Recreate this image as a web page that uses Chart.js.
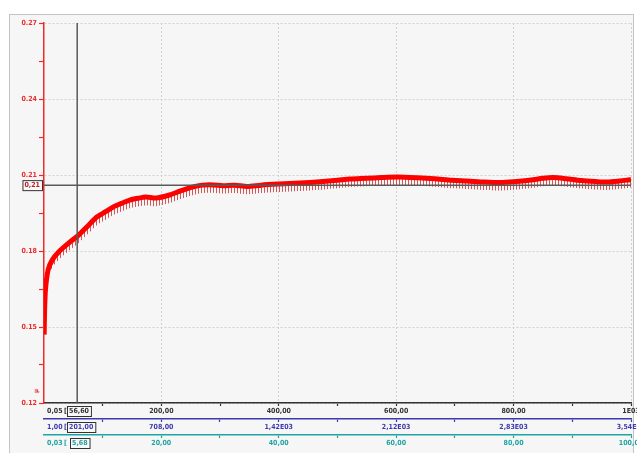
<!DOCTYPE html>
<html>
<head>
<meta charset="utf-8">
<script src="https://cdn.jsdelivr.net/npm/chart.js@4/dist/chart.umd.min.js"></script>
<style>
  html, body { margin: 0; padding: 0; background: #ffffff; }
  #grafico { display: block; }
</style>
</head>
<body>
<canvas id="grafico" width="637" height="453"></canvas>
<script>
// Dados (tempo x amplitude)
const timeS = [0.3, 1, 2.5, 7, 14, 25, 42, 59, 75, 90, 105, 118, 132, 146, 160, 174, 191, 214, 228, 243,
  256, 270, 288, 305, 325, 346, 370, 400, 436, 470, 500, 521, 550, 575, 602, 636, 665, 695, 721, 750,
  777, 800, 830, 850, 868, 890, 915, 940, 960, 980, 994, 1000];
const ampRed = [0.147, 0.156, 0.1646, 0.1725, 0.1764, 0.1796, 0.1831, 0.1863, 0.190, 0.1934,
  0.1955, 0.1974, 0.1988, 0.2001, 0.2008, 0.2013, 0.2009, 0.2021, 0.2033, 0.2045,
  0.2054, 0.2060, 0.2061, 0.2058, 0.2060, 0.2055, 0.2060, 0.2064, 0.2068, 0.2073,
  0.2079, 0.2084, 0.2087, 0.2090, 0.2092, 0.2089, 0.2085, 0.2079, 0.2076, 0.2072,
  0.2070, 0.2073, 0.2080, 0.2087, 0.2090, 0.2085, 0.2078, 0.2074, 0.2072, 0.2076, 0.2080, 0.2082];
// Fundo dos picos (envelope inferior do ruído)
const ampLow = [0.147, 0.156, 0.1635, 0.170, 0.1735, 0.1765, 0.180, 0.1832, 0.1868, 0.1902,
  0.1923, 0.1942, 0.1956, 0.1969, 0.1976, 0.1981, 0.1977, 0.1989, 0.2001, 0.2013,
  0.2022, 0.2029, 0.2030, 0.2027, 0.2029, 0.2024, 0.2029, 0.2033, 0.2037, 0.2042,
  0.2048, 0.2053, 0.2056, 0.2059, 0.2061, 0.2058, 0.2054, 0.2048, 0.2045, 0.2041,
  0.2039, 0.2042, 0.2049, 0.2056, 0.2059, 0.2054, 0.2047, 0.2043, 0.2041, 0.2045, 0.2049, 0.2051];

// Eixos e rótulos
const xTicks = [100, 200, 300, 400, 500, 600, 700, 800, 900, 1000];
const xTickLabels = ['', '200,00', '', '400,00', '', '600,00', '', '800,00', '', '1E03'];
const x2Ticks = [354, 708, 1062, 1416, 1770, 2124, 2478, 2832, 3186, 3540];
const x2TickLabels = ['', '708,00', '', '1,42E03', '', '2,12E03', '', '2,83E03', '', '3,54E03'];
const x3Ticks = [10, 20, 30, 40, 50, 60, 70, 80, 90, 100];
const x3TickLabels = ['', '20,00', '', '40,00', '', '60,00', '', '80,00', '', '100,00'];
const yTicks = [0.12, 0.135, 0.15, 0.165, 0.18, 0.195, 0.21, 0.225, 0.24, 0.255, 0.27];
const yTickLabels = ['0.12', '', '0.15', '', '0.18', '', '0.21', '', '0.24', '', '0.27'];
const axisMinLabels = ['0,05', '1,00', '0,03'];

// Cursor
const cursorT = 56.6;
const cursorLabels = ['56,60', '201,00', '5,68'];
const cursorY = 0.206;
const cursorYLabel = '0,21';

const FONT = "'Liberation Sans Narrow', 'DejaVu Sans Condensed', 'Liberation Sans', sans-serif";
const COR_X = '#333333', COR_X2 = '#3b3bb0', COR_X3 = '#1fa3a3', COR_Y = '#ee2a2a';

// Padrão de riscos verticais para o ruído
function makeSpikePattern() {
    const c = document.createElement('canvas');
    c.width = 3; c.height = 1;
    const g = c.getContext('2d');
    g.fillStyle = 'rgba(190,20,20,0.7)';
    g.fillRect(0, 0, 1, 1);
    return document.getElementById('grafico').getContext('2d').createPattern(c, 'repeat');
}

function fitX(s) { s.height = 16; s.paddingLeft = 0; s.paddingRight = 0; }

function xAxis(min, max, ticks, labels, color, onArea) {
    return {
        type: 'linear', position: 'bottom', min: min, max: max,
        afterBuildTicks: s => { s.ticks = ticks.map(v => ({ value: v })); },
        afterFit: fitX,
        ticks: {
            autoSkip: false, maxRotation: 0, padding: 1, color: color,
            font: { family: FONT, size: 7, weight: 'bold' },
            callback: (v, i) => labels[i]
        },
        grid: {
            drawOnChartArea: onArea,
            color: c => (labels[c.index] ? '#d2d2d2' : 'transparent'),
            lineWidth: 1, tickLength: 3, tickColor: color, tickWidth: 1.2
        },
        border: { color: color, width: 1.5, dash: [2, 2] }
    };
}

// Fundo e moldura
const framePlugin = {
    id: 'moldura',
    beforeDraw(chart) {
        const ctx = chart.ctx;
        ctx.save();
        ctx.fillStyle = '#ffffff';
        ctx.fillRect(0, 0, chart.width, chart.height);
        ctx.fillStyle = '#f6f6f6';
        ctx.fillRect(9, 14, 625, 445);
        ctx.strokeStyle = '#c4c4c4';
        ctx.lineWidth = 1;
        ctx.strokeRect(9.5, 14.5, 624, 445);
        ctx.restore();
    }
};

function boxedText(ctx, text, x, y, color) {
    const w = ctx.measureText(text).width + 4;
    ctx.fillStyle = '#f8f8f8';
    ctx.fillRect(x, y - 5, w, 10);
    ctx.strokeStyle = '#333';
    ctx.lineWidth = 1;
    ctx.strokeRect(x + 0.5, y - 5 + 0.5, w, 10);
    ctx.fillStyle = color;
    ctx.textAlign = 'left';
    ctx.fillText(text, x + 2, y + 0.5);
    return w;
}

// Cursor e leituras
const cursorPlugin = {
    id: 'cursor',
    afterDraw(chart) {
        const { ctx, chartArea, scales } = chart;
        const xs = scales.x.getPixelForValue(cursorT);
        const ys = scales.y.getPixelForValue(cursorY);
        ctx.save();
        ctx.strokeStyle = '#5a5a5a';
        ctx.lineWidth = 1.5;
        ctx.beginPath();
        ctx.moveTo(xs, chartArea.top);
        ctx.lineTo(xs, chartArea.bottom);
        ctx.moveTo(chartArea.left, ys);
        ctx.lineTo(chartArea.right, ys);
        ctx.stroke();

        ctx.font = 'bold 7px ' + FONT;
        ctx.textBaseline = 'middle';
        const axes = [scales.x, scales.x2, scales.x3];
        const cores = [COR_X, COR_X2, COR_X3];
        axes.forEach((s, i) => {
            const ty = s.top + 8;
            ctx.fillStyle = cores[i];
            ctx.textAlign = 'left';
            ctx.fillText(axisMinLabels[i], chartArea.left + 3, ty);
            ctx.fillText('[', chartArea.left + 20, ty);
            boxedText(ctx, cursorLabels[i], chartArea.left + 23 + (i === 2 ? 3 : 0), ty, cores[i]);
        });

        // leitura do eixo y
        const w = ctx.measureText(cursorYLabel).width + 4;
        boxedText(ctx, cursorYLabel, chartArea.left - w - 2, ys, '#c02020');

        // unidade do eixo y
        ctx.fillStyle = COR_Y;
        ctx.font = 'bold 6px ' + FONT;
        ctx.translate(36, chartArea.bottom - 12);
        ctx.rotate(-Math.PI / 2);
        ctx.textAlign = 'center';
        ctx.fillText('µ', 0, 0);
        ctx.restore();
    }
};

const spikePattern = makeSpikePattern();

new Chart(document.getElementById('grafico'), {
    type: 'line',
    data: {
        datasets: [{
            label: 'amplitude',
            data: timeS.map((t, i) => ({ x: t, y: ampRed[i] })),
            borderColor: '#ff0000',
            borderWidth: 5,
            pointRadius: 0,
            tension: 0.25,
            fill: false
        }, {
            label: 'ruido',
            data: timeS.map((t, i) => ({ x: t, y: ampLow[i] })),
            borderColor: 'rgba(0,0,0,0)',
            borderWidth: 0,
            backgroundColor: spikePattern,
            pointRadius: 0,
            tension: 0.25,
            fill: '-1'
        }]
    },
    options: {
        responsive: false,
        animation: false,
        layout: { padding: { left: 10, top: 23, right: 6, bottom: 2 } },
        scales: {
            x: xAxis(0.05, 1000, xTicks, xTickLabels, COR_X, true),
            x2: xAxis(1, 3540, x2Ticks, x2TickLabels, COR_X2, false),
            x3: xAxis(0.03, 100, x3Ticks, x3TickLabels, COR_X3, false),
            y: {
                type: 'linear', position: 'left', min: 0.12, max: 0.27,
                afterBuildTicks: s => { s.ticks = yTicks.map(v => ({ value: v })); },
                afterFit: s => { s.width = 34; s.paddingTop = 0; s.paddingBottom = 0; },
                ticks: {
                    autoSkip: false, padding: 2, color: COR_Y,
                    font: { family: FONT, size: 7, weight: 'bold' },
                    callback: (v, i) => yTickLabels[i]
                },
                grid: {
                    color: c => (yTickLabels[c.index] ? '#d2d2d2' : 'transparent'),
                    tickLength: 5, tickColor: COR_Y, tickWidth: 1.2
                },
                border: { color: COR_Y, width: 1.5, dash: [2, 2] }
            }
        },
        plugins: {
            legend: { display: false },
            tooltip: { enabled: false }
        }
    },
    plugins: [framePlugin, cursorPlugin]
});
</script>
</body>
</html>
